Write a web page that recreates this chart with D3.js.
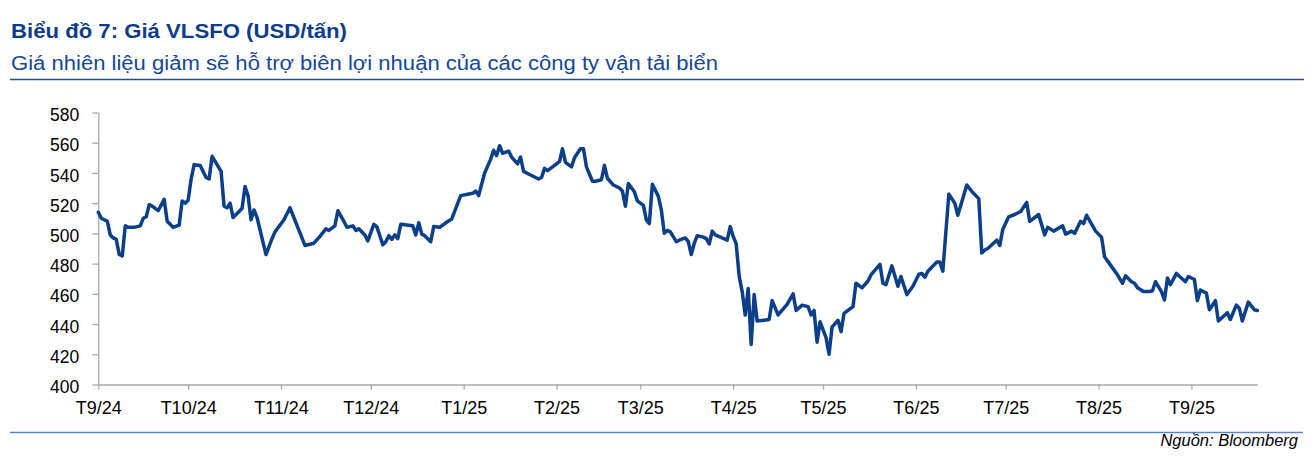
<!DOCTYPE html>
<html><head><meta charset="utf-8">
<script src="https://cdn.jsdelivr.net/npm/d3@7"></script>
<style>
html,body{margin:0;padding:0;background:#fff;}
svg{display:block;}
</style></head>
<body>
<svg id="chart" width="1314" height="456"></svg>
<script>
const titleText = "Biểu đồ 7: Giá VLSFO (USD/tấn)";
const subtitleText = "Giá nhiên liệu giảm sẽ hỗ trợ biên lợi nhuận của các công ty vận tải biển";
const sourceText = "Nguồn: Bloomberg";
const startDate = "2024-09-01";
const endDate = "2025-09-23";
const tickDates = ["2024-09-01","2024-10-01","2024-11-01","2024-12-01","2025-01-01","2025-02-01","2025-03-01","2025-04-01","2025-05-01","2025-06-01","2025-07-01","2025-08-01","2025-09-01"];
const tickLabels = ["T9/24","T10/24","T11/24","T12/24","T1/25","T2/25","T3/25","T4/25","T5/25","T6/25","T7/25","T8/25","T9/25"];
const yTicks = [400,420,440,460,480,500,520,540,560,580];

// days since startDate
const dayOffsets = [
  0,1,2,3,4,5,6,7,8,9,
  10,12,14,15,16,17,18,20,22,23,
  25,27,28,29,30,31,32,34,36,37,
  38,41,42,43,44,45,48,49,50,51,
  52,53,56,58,59,62,64,65,67,69,
  72,74,76,77,79,80,82,83,85,86,
  87,89,90,92,93,95,96,97,98,99,
  100,101,105,106,107,108,109,111,112,114,
  116,118,121,125,126,127,129,131,132,133,
  134,135,137,138,140,141,142,144,147,148,
  149,150,152,154,155,156,158,159,161,162,
  163,165,166,168,169,170,172,174,175,176,
  177,179,180,182,183,184,185,187,188,189,
  190,191,193,194,196,197,198,199,200,202,
  203,204,205,206,210,211,212,213,214,215,
  216,217,218,219,220,224,225,227,230,232,
  233,235,237,238,239,240,241,243,244,245,
  247,248,249,250,252,253,255,257,258,261,
  262,263,265,267,268,270,272,274,275,276,
  277,280,281,282,284,286,287,290,292,294,
  295,296,297,300,301,302,304,306,308,310,
  311,314,316,317,319,322,323,325,326,328,
  329,330,333,335,336,338,340,342,343,345,
  346,347,349,351,352,353,355,356,357,358,
  360,363,364,366,367,368,370,371,373,374,
  377,378,380,381,382,384,386,387
];
// VLSFO price, USD/tonne
const prices = [
  514,510,509,508,499,497,496,486,485,505,
  504,504,505,510,511,519,518,515,522.5,508,
  504,505.5,521.5,520,522,536,545.5,545,537,536,
  551,541,518,517,520,510.5,516.5,531,525,509,
  515.5,510.5,486,496.5,501,509,517,512,502,492,
  493.5,498,503,502,505,515,508,504,505,502,
  503,499,495,506,504.5,492.5,494.5,498.5,496,499,
  496.5,506,505,499,507,499.5,498.5,494.5,504.5,504,
  507,509.5,525,526.5,528,525,540,549,555,551.5,
  558,553,554.5,550.5,546,550.5,541,539,536,537,
  543,541.5,544.5,547.5,556,547,544,550,556,556,
  544,534.5,534.5,535.5,545,536.5,532,530,528,518,
  533,527.5,521.5,518.5,509,506.5,532.5,524.5,515.5,500,
  502,501,494.5,495.5,497,494.5,486,493.5,498.5,497.5,
  496.5,493,501.5,499,495.5,504.5,498,493,471.5,461.5,
  446,463.5,426.5,459.5,442,443,455.5,446,453,460,
  449,452.5,451.5,446,449,428,441.5,431,420,438,
  442.5,435,447,448.5,451.5,467,464,468.5,472.5,479.5,
  467,466,478.5,465,471.5,459.5,465,473,473.5,471,
  475,481,481,475,526,520,512,532,527,523,
  487,489,490,495.5,492,502.5,511,512.5,514.5,520.5,
  508,512.5,499,504,501.5,505,499.5,501.5,500,508,
  506.5,512,501.5,497.5,484.5,479,473.5,467,472,468,
  467,464,461.5,461.5,462,468,461.5,456,470.5,466,
  473.5,468,471.5,469.5,455.5,462.5,460.5,449.5,455.5,442,
  447.5,443,452.5,450.5,442,454.5,449.5,449
];

const FONT = "'Liberation Sans', Arial, Helvetica, sans-serif";
const svg = d3.select("#chart");

const parse = d3.utcParse("%Y-%m-%d");
const start = parse(startDate);
const data = dayOffsets.map((d, i) => ({ date: d3.utcDay.offset(start, d), value: prices[i] }));

const x = d3.scaleUtc().domain([start, parse(endDate)]).range([98.3, 1257.3]);
const y = d3.scaleLinear().domain([400, 580]).range([384.5, 112.5]);

// Title + subtitle
svg.append("text")
  .attr("x", 11).attr("y", 37.5)
  .attr("font-family", FONT).attr("font-weight", "bold").attr("font-size", 21)
  .attr("fill", "#0c3c8a")
  .attr("textLength", 336).attr("lengthAdjust", "spacingAndGlyphs")
  .text(titleText);
svg.append("text")
  .attr("x", 11).attr("y", 69.5)
  .attr("font-family", FONT).attr("font-size", 19.5)
  .attr("fill", "#144796")
  .attr("textLength", 707).attr("lengthAdjust", "spacingAndGlyphs")
  .text(subtitleText);

svg.append("line").attr("x1", 10).attr("x2", 1304).attr("y1", 79.5).attr("y2", 79.5)
  .attr("stroke", "#1f4f9c").attr("stroke-width", 1.4);
svg.append("line").attr("x1", 10).attr("x2", 1303).attr("y1", 432.5).attr("y2", 432.5)
  .attr("stroke", "#5f82bd").attr("stroke-width", 1.4);

// Axes
const xAxis = d3.axisBottom(x)
  .tickValues(tickDates.map(parse))
  .tickFormat((d, i) => tickLabels[i])
  .tickSize(5).tickSizeOuter(0).tickPadding(12);
const gx = svg.append("g").attr("transform", `translate(0,${y(400)})`).call(xAxis);

const yAxis = d3.axisLeft(y)
  .tickValues(yTicks)
  .tickSize(6).tickSizeOuter(0).tickPadding(13);
const gy = svg.append("g").attr("transform", `translate(${x(start)},0)`).call(yAxis);

[gx, gy].forEach(g => {
  g.selectAll("path, line").attr("stroke", "#a9a9a9").attr("stroke-width", 1.3);
  g.selectAll("text").attr("font-family", FONT).attr("fill", "#000");
});
gx.selectAll("text").attr("font-size", 18);
gy.selectAll("text").attr("font-size", 17.5).attr("dy", "0.46em");

// Line
svg.append("path")
  .datum(data)
  .attr("fill", "none")
  .attr("stroke", "#0b3f8a")
  .attr("stroke-width", 3.5)
  .attr("stroke-linejoin", "round")
  .attr("stroke-linecap", "round")
  .attr("d", d3.line().x(d => x(d.date)).y(d => y(d.value)));

// Source
svg.append("text")
  .attr("x", 1298).attr("y", 445.5)
  .attr("text-anchor", "end")
  .attr("font-family", FONT).attr("font-style", "italic").attr("font-size", 16.5)
  .attr("fill", "#000")
  .text(sourceText);
</script>
</body></html>
